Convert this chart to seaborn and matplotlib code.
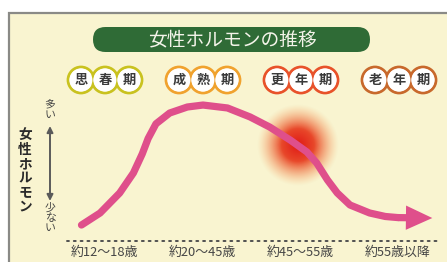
import numpy as np
import matplotlib
matplotlib.use("Agg")
import matplotlib.pyplot as plt
import seaborn as sns
from matplotlib.patches import Ellipse, FancyBboxPatch, Rectangle

# ---------------- data ----------------
title = "女性ホルモンの推移"
stages = ["思春期", "成熟期", "更年期", "老年期"]
stage_colors = ["#c9c21f", "#f0a22e", "#e8522a", "#c8692c"]
age_labels = ["約12～18歳", "約20～45歳", "約45～55歳", "約55歳以降"]
y_label = "女性ホルモン"
y_high = "多い"
y_low = "少ない"

# hormone curve: x in stage units (0 = 思春期 ... 3 = 老年期), level 0..1
curve_x = [-0.24, -0.05, 0.15, 0.29, 0.38, 0.44, 0.52, 0.66, 0.84, 1.00,
           1.25, 1.48, 1.68, 1.89, 2.06, 2.16, 2.27, 2.37, 2.50, 2.70,
           2.86, 2.99]
curve_y = [0.107, 0.193, 0.336, 0.479, 0.615, 0.725, 0.83, 0.907, 0.95, 0.964,
           0.943, 0.879, 0.807, 0.714, 0.629, 0.55, 0.429, 0.336, 0.25, 0.193,
           0.168, 0.16]
arrow_tip = (3.34, 0.157)
glow_center = (1.97, 0.68)

# ---------------- figure ----------------
sns.set_theme(style="white")
plt.rcParams["font.family"] = ["Noto Sans CJK JP", "DejaVu Sans"]

W, H = 447, 262
fig = plt.figure(figsize=(W / 100, H / 100), dpi=100, facecolor="white")

# decoration layer in pixel coordinates
deco = fig.add_axes([0, 0, 1, 1], zorder=0)
deco.set_xlim(0, W)
deco.set_ylim(H, 0)
deco.axis("off")
deco.add_patch(Rectangle((9, 13), W, H, facecolor="#f9f4d0",
                         edgecolor="#8a8a86", lw=1.6))
deco.add_patch(FancyBboxPatch((93, 27), 277, 25,
                              boxstyle="round,pad=0,rounding_size=12.5",
                              facecolor="#2f6b36", edgecolor="none"))
deco.text(232, 40, title, color="#f4f4ea", fontsize=13.5,
          ha="center", va="center")

# main data axes
ax = fig.add_axes([0, 0, 1, 1], zorder=1)
PX_S, PX_L = 98.0, 140.0      # pixels per stage unit / per level unit
X0, Y0 = 105.0, 240.0         # pixel of stage 0 / level 0
ax.set_xlim(-X0 / PX_S, (W - X0) / PX_S)
ax.set_ylim(-(H - Y0) / PX_L, Y0 / PX_L)
ax.axis("off")
ax.patch.set_alpha(0)

# glow
R = 41.0
n = 200
u = np.linspace(-1, 1, n)
U, V = np.meshgrid(u, u)
r = np.sqrt(U ** 2 + V ** 2)
c0 = np.array([0.88, 0.11, 0.09])
c1 = np.array([0.96, 0.55, 0.28])
t = np.clip(r / 0.95, 0, 1)[..., None] ** 1.1
rgb = c0 * (1 - t) + c1 * t
alpha = np.clip((1.0 - r) / 0.6, 0, 1) ** 1.15
img = np.dstack([rgb, alpha])
ax.imshow(img, extent=[glow_center[0] - R / PX_S, glow_center[0] + R / PX_S,
                       glow_center[1] - R / PX_L, glow_center[1] + R / PX_L],
          aspect="auto", interpolation="bilinear", zorder=2)

# curve
sns.lineplot(x=curve_x, y=curve_y, sort=False, estimator=None, ax=ax,
             color="#df4f8b", lw=5.2, solid_capstyle="round", zorder=3)
ax.annotate("", xy=arrow_tip, xytext=(curve_x[-1], curve_y[-1]),
            arrowprops=dict(arrowstyle="simple,head_length=1.9,head_width=1.75,tail_width=0.52",
                            facecolor="#df4f8b", edgecolor="none", lw=0,
                            mutation_scale=10, shrinkA=0, shrinkB=0),
            zorder=3)

# baseline
ax.plot([-0.39, 3.39], [-0.01, -0.01], color="#505050", lw=1.4,
        linestyle=(0, (1, 2.5)), dash_capstyle="round", zorder=2)

# stage badges
badge_y = (Y0 - 80) / PX_L
rad = 13.0
for i, (lab, col) in enumerate(zip(stages, stage_colors)):
    offs = [-24, 0, 24]
    for o in offs:
        ax.add_patch(Ellipse((i + o / PX_S, badge_y), 2 * rad / PX_S, 2 * rad / PX_L,
                             facecolor="white", edgecolor=col, lw=2.0, zorder=4))
    for o in offs:
        ax.add_patch(Ellipse((i + o / PX_S, badge_y), 2 * (rad - 1.6) / PX_S,
                             2 * (rad - 1.6) / PX_L,
                             facecolor="white", edgecolor="none", zorder=5))
    for o, ch in zip(offs, lab):
        ax.text(i + o / PX_S, badge_y, ch, fontsize=9.5, fontweight="bold",
                color="#3a3a3a", ha="center", va="center", zorder=6)

# age labels
for i, lab in enumerate(age_labels):
    ax.text(i - 0.01, -(252 - Y0) / PX_L, lab, fontsize=9.3, color="#454545",
            ha="center", va="center", zorder=6)

# y axis indicator
ax_x = (50 - X0) / PX_S
ax.annotate("", xy=(ax_x, (Y0 - 126) / PX_L), xytext=(ax_x, (Y0 - 201) / PX_L),
            arrowprops=dict(arrowstyle="<|-|>", color="#5a5a5a", lw=1.4,
                            mutation_scale=9, shrinkA=0, shrinkB=0), zorder=4)
ax.text(ax_x, (Y0 - 110) / PX_L, "\n".join(y_high), fontsize=7.8, color="#444444",
        ha="center", va="center", linespacing=1.0)
ax.text(ax_x, (Y0 - 218) / PX_L, "\n".join(y_low), fontsize=7.8, color="#444444",
        ha="center", va="center", linespacing=1.0)
ax.text((25 - X0) / PX_S, (Y0 - 171) / PX_L, "\n".join(y_label), fontsize=9.8,
        fontweight="bold", color="#2a2a2a", ha="center", va="center",
        linespacing=1.0)

fig.savefig("out.png", dpi=100, facecolor="white")
